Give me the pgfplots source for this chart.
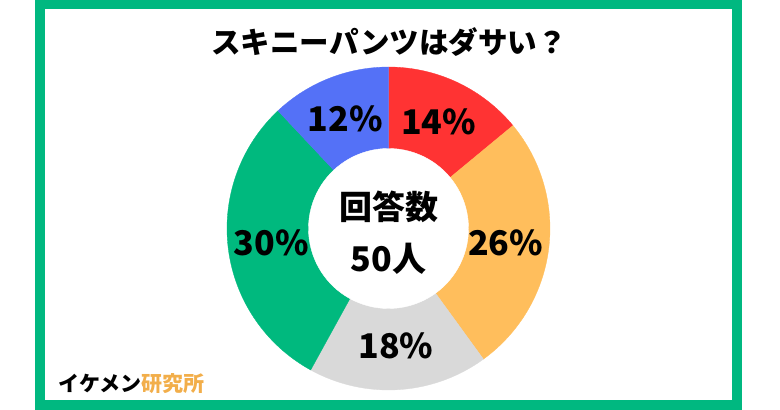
\documentclass[border=0pt]{standalone}
\usepackage{pgfplots}
\usepackage{pgfplotstable}
\pgfplotsset{compat=1.18}
\usepackage{fontspec}
\newfontfamily\cjk{Noto Sans CJK JP}

\definecolor{pRed}{HTML}{FF3333}
\definecolor{pOrange}{HTML}{FFBE5C}
\definecolor{pGray}{HTML}{D9D9D9}
\definecolor{pGreen}{HTML}{00B97E}
\definecolor{pBlue}{HTML}{5471F7}
\definecolor{frameGreen}{HTML}{00B880}
\definecolor{logoGold}{HTML}{F2AE4A}

% share in percent, clockwise from 12 o'clock
\pgfplotstableread{
share color
14 pRed
26 pOrange
18 pGray
30 pGreen
12 pBlue
}\donutdata

\begin{document}
\begin{tikzpicture}
\begin{axis}[
    scale only axis,
    width=780pt, height=410pt,
    xmin=0, xmax=780, ymin=0, ymax=410,
    hide axis,
]
    % frame
    \addplot[draw=frameGreen, line width=10pt, line join=miter] coordinates
        {(40,5) (737,5) (737,405.5) (40,405.5)} -- cycle;

    \def\cx{388.5}\def\cy{181.5}\def\R{161.5}
    \def\start{0}
    \pgfplotsforeachungrouped \i in {0,...,4}{
        \pgfplotstablegetelem{\i}{share}\of\donutdata \let\val=\pgfplotsretval
        \pgfplotstablegetelem{\i}{color}\of\donutdata \let\col=\pgfplotsretval
        \pgfmathsetmacro\aend{90-3.6*\start}
        \pgfmathsetmacro\abeg{90-3.6*(\start+\val)}
        \pgfmathsetmacro\amid{(\aend+\abeg)/2}
        \pgfmathsetmacro\lx{\cx+118*cos(\amid)}
        \pgfmathsetmacro\ly{\cy+118*sin(\amid)}
        \edef\temp{\noexpand\addplot[fill=\col, draw=\col, line width=0.3pt,
            domain=\abeg:\aend, samples=90]
            ({\cx+\R*cos(x)},{\cy+\R*sin(x)}) -- (axis cs:\cx,\cy) -- cycle;
            \noexpand\node[font=\noexpand\cjk\noexpand\bfseries\noexpand\fontsize{34}{40}\noexpand\selectfont]
            at (axis cs:\lx,\ly) {\val\noexpand\%};}
        \temp
        \pgfmathsetmacro\start{\start+\val}
        \xdef\start{\start}
    }
    % hole
    \addplot[fill=white, draw=white, domain=0:360, samples=120]
        ({\cx+80*cos(x)},{\cy+80*sin(x)}) -- cycle;

    \node[font=\cjk\bfseries\fontsize{33}{38}\selectfont] at (axis cs:388.5,203) {回答数};
    \node[font=\cjk\bfseries\fontsize{34}{40}\selectfont] at (axis cs:388.5,151) {50人};

    \node[font=\cjk\bfseries\fontsize{29.5}{35}\selectfont] at (axis cs:389,368) {スキニーパンツはダサい？};
    \node[font=\cjk\bfseries\fontsize{21}{25}\selectfont, anchor=west] at (axis cs:55,26)
        {イケメン\textcolor{logoGold}{研究所}};
\end{axis}
\path (current axis.south west) rectangle (current axis.north east);
\end{tikzpicture}
\end{document}
